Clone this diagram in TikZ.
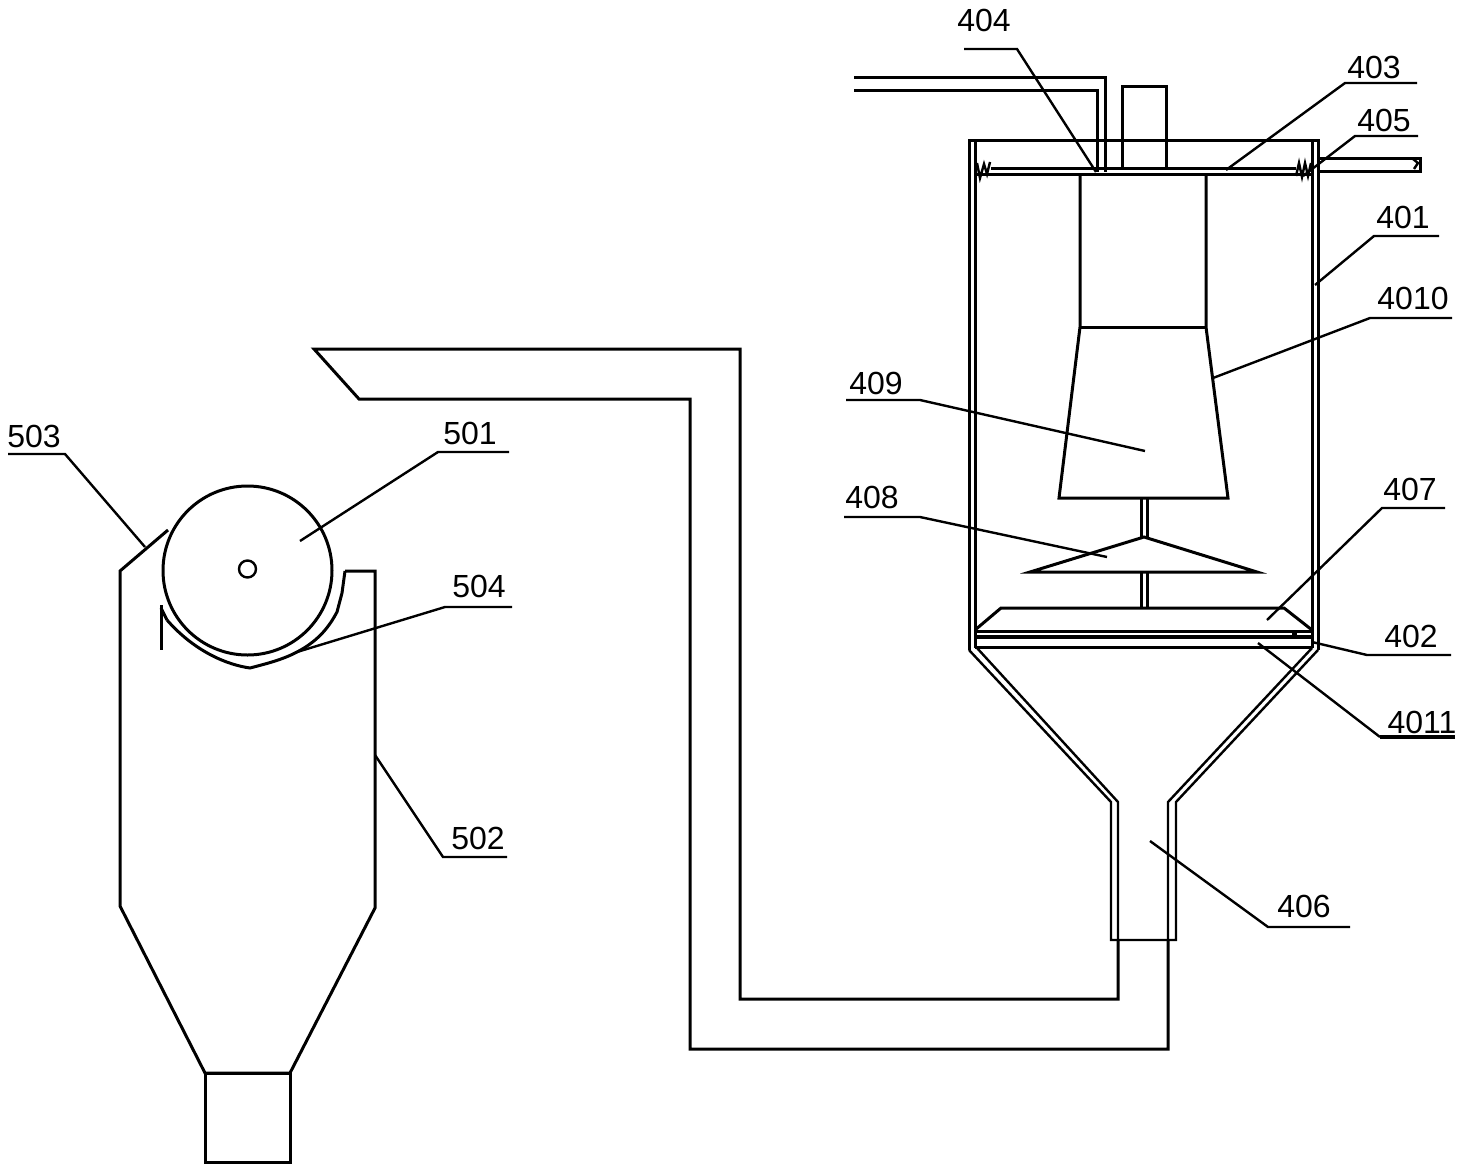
\documentclass[tikz,border=0pt]{standalone}
\usepackage{fontspec}
\setmainfont{Liberation Sans}
\begin{document}
\begin{tikzpicture}[x=1pt,y=-1pt,line join=miter,
  part/.style={draw=black,line width=3pt},
  thin part/.style={draw=black,line width=2.4pt},
  leader/.style={draw=black,line width=2.4pt},
  tag/.style={inner sep=0pt,font=\fontsize{32}{36}\selectfont,text=black}]
\useasboundingbox (0,0) rectangle (1461,1170);
\fill[white] (0,0) rectangle (1461,1170);
% --- upper vessel
\draw[part] (969,650) -- (969,140) -- (1318,140) -- (1318,650);
\draw[part] (975,140) -- (975,648);
\draw[part] (1312,140) -- (1312,648);
% cone, double wall
\draw[thin part] (969,650) -- (1111,802) -- (1111,940) -- (1176,940) -- (1176,802) -- (1318,650);
\draw[thin part] (977,648) -- (1118,802) -- (1118,940);
\draw[thin part] (1312,648) -- (1168,802) -- (1168,940);
% pipes at top
\draw[part] (854,77) -- (1105,77) -- (1105,172);
\draw[part] (854,90) -- (1097,90) -- (1097,172);
\draw[part] (1122,168) -- (1122,86) -- (1166,86) -- (1166,168);
\draw[part] (1318,158) -- (1420,158) -- (1420,171) -- (1318,171);
\draw[thin part] (1413,159) -- (1418,163) -- (1414,169);
% plate 403
\draw[part] (991,168) -- (1296,168);
\draw[part] (975,174) -- (1312,174);
% springs
\draw[thin part] (977,163) -- (980,178) -- (984,164) -- (987,174) -- (990,162);
\draw[thin part] (1296,176) -- (1299,163) -- (1302,177) -- (1305,163) -- (1308,176) -- (1311,163);
% upper body 4010 / 409
\draw[part] (1080,174) -- (1080,327) -- (1059,498) -- (1228,498) -- (1206,327) -- (1206,174);
\draw[part] (1080,327) -- (1206,327);
% shaft
\draw[part] (1141,498) -- (1141,538);
\draw[part] (1147,498) -- (1147,538);
\draw[part] (1141,572) -- (1141,608);
\draw[part] (1147,572) -- (1147,608);
% 408
\draw[part] (1030,572) -- (1144,537) -- (1257,572) -- cycle;
% 407
\draw[part] (975,630) -- (1001,608) -- (1284,608) -- (1312,630);
\draw[part] (975,631) -- (1312,631);
\draw[draw=black,line width=3.6pt] (975,637) -- (1312,637);
\draw[part] (975,647) -- (1312,647);
\fill[black] (1292,631) rectangle (1297,637);
% transport pipe
\draw[part] (1118,940) -- (1118,999) -- (740,999) -- (740,349) -- (314,349) -- (359,399) -- (690,399) -- (690,1049) -- (1168,1049) -- (1168,940);
% --- lower apparatus
\draw[part] (247.5,570.5) circle[radius=84.5];
\draw[thin part] (247.5,569) circle[radius=8.5];
\draw[part] (168,530) -- (120,571) -- (120,906) -- (205,1073) -- (290,1073) -- (375,908) -- (375,571) -- (345,571);
\draw[part] (205,1073) rectangle (290,1162);
\draw[part] (345,571) -- (342,593) -- (337,612) .. controls (330,625) and (320,640) .. (297,652) .. controls (282,660) and (265,664) .. (250,668) .. controls (228,665) and (195,652) .. (167,620);
\draw[part] (161,605) -- (161,650);
\draw[part] (161,608) -- (167,620);
% --- labels
\node[tag] (t404) at (984,20) {404};
\node[tag] (t403) at (1374,67) {403};
\node[tag] (t405) at (1384,120) {405};
\node[tag] (t401) at (1403,217) {401};
\node[tag] (t4010) at (1413,298) {4010};
\node[tag] (t409) at (876,383) {409};
\node[tag] (t408) at (872,497) {408};
\node[tag] (t407) at (1410,489) {407};
\node[tag] (t402) at (1411,636) {402};
\node[tag] (t4011) at (1422,722) {4011};
\node[tag] (t406) at (1304,906) {406};
\node[tag] (t502) at (478,838) {502};
\node[tag] (t504) at (479,586) {504};
\node[tag] (t501) at (470,433) {501};
\node[tag] (t503) at (34,436) {503};
% --- leader end points
\coordinate (e404) at (1096,172);
\coordinate (e403) at (1226,170);
\coordinate (e405) at (1303,176);
\coordinate (e401) at (1315,285);
\coordinate (e4010) at (1213,378);
\coordinate (e409) at (1145,451);
\coordinate (e408) at (1107,557);
\coordinate (e407) at (1267,620);
\coordinate (e402) at (1312,642);
\coordinate (e4011) at (1258,643);
\coordinate (e406) at (1150,841);
\coordinate (e502) at (375,755);
\coordinate (e504) at (297,652);
\coordinate (e501) at (300,541);
\coordinate (e503) at (145,547);
% --- leaders
\draw[leader] (964,49) -- (1017,49) -- (e404);
\draw[leader] (1417,83) -- (1345,83) -- (e403);
\draw[leader] (1418,136) -- (1355,136) -- (e405);
\draw[leader] (1439,236) -- (1374,236) -- (e401);
\draw[leader] (1452,318) -- (1370,318) -- (e4010);
\draw[leader] (846,400) -- (920,400) -- (e409);
\draw[leader] (844,517) -- (920,517) -- (e408);
\draw[leader] (1445,508) -- (1382,508) -- (e407);
\draw[leader] (1451,655) -- (1367,655) -- (e402);
\draw[leader] (1380,737) -- (e4011);
\draw[draw=black,line width=3.4pt] (1455,737) -- (1380,737);
\draw[leader] (1350,927) -- (1268,927) -- (e406);
\draw[leader] (507,857) -- (443,857) -- (e502);
\draw[leader] (512,607) -- (445,607) -- (e504);
\draw[leader] (509,452) -- (438,452) -- (e501);
\draw[leader] (8,454) -- (65,454) -- (e503);
\end{tikzpicture}
\end{document}
